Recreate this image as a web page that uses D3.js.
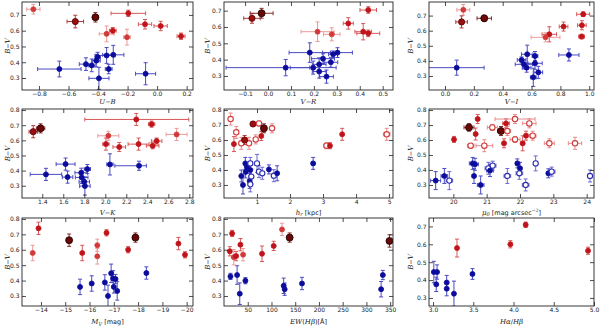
<!DOCTYPE html>
<html><head><meta charset="utf-8">
<script src="https://cdn.jsdelivr.net/npm/d3@7"></script>
<style>body{margin:0;background:#fff}svg{display:block}</style></head>
<body><svg id="c" width="600" height="327"></svg>
<script>
// ---------- DATA ----------
// types: b blue filled, bo blue open, r red filled, l light red, ro red open, d dark red, k darkest red
// Panel 1: U-B
const p1_x = [-0.662,-0.482,-0.443,-0.412,-0.403,-0.394,-0.342,-0.297,-0.328,-0.078, -0.838,-0.554,-0.418,-0.195,-0.082,0.024,0.162,-0.30,-0.342,-0.204];
const p1_y = [0.357,0.388,0.38,0.41,0.433,0.298,0.443,0.447,0.357,0.327, 0.736,0.658,0.685,0.71,0.641,0.63,0.565,0.60,0.58,0.559];
const p1_ex = [0.147,0.045,0.023,0.027,0.018,0.068,0.056,0.072,0.023,0.068, 0.045,0.056,0.018,0.117,0.045,0.045,0.027,0.023,0.05,0.023];
const p1_ey = [0.05,0.04,0.04,0.04,0.03,0.07,0.05,0.06,0.03,0.07, 0.03,0.04,0.03,0.02,0.03,0.03,0.02,0.02,0.05,0.05];
const p1_t = ['b','b','b','b','b','b','b','b','b','b','l','d','k','r','r','r','r','r','l','l'];
// Panel 2: V-R
const p2_x = [0.077,0.182,0.197,0.223,0.223,0.24,0.255,0.274,0.284,0.303, -0.07,-0.028,0.437,0.35,0.216,0.278,0.415,0.437];
const p2_y = [0.351,0.443,0.351,0.371,0.327,0.406,0.296,0.384,0.433,0.443, 0.653,0.684,0.704,0.622,0.571,0.555,0.571,0.561];
const p2_ex = [[0.26,0.105],0.09,0.1,0.03,0.03,0.05,0.03,0.03,0.02,0.065, 0.036,0.05,0.036,0.022,0.072,0.036,0.036,0.05];
const p2_ey = [0.05,0.06,0.04,0.04,0.04,0.03,0.04,0.03,0.02,0.03, 0.03,0.03,0.02,0.035,0.06,0.04,0.05,0.02];
const p2_t = ['b','b','b','b','b','b','b','b','b','b','d','k','r','r','l','l','r','r'];
// Panel 3: V-I
const p3_x = [0.081,0.859,0.531,0.57,0.547,0.566,0.624,0.624,0.647,0.612, 0.127,0.115,0.272,0.958,0.822,0.949,0.947,0.723,0.697];
const p3_y = [0.355,0.439,0.406,0.444,0.377,0.355,0.432,0.384,0.324,0.291, 0.738,0.658,0.682,0.709,0.627,0.636,0.561,0.576,0.556];
const p3_ex = [[0.2,0.19],0.07,0.03,0.04,0.06,0.03,0.02,0.05,0.03,0.02, 0.045,0.04,0.05,0.045,0.03,0.03,0.02,0.05,0.1];
const p3_ey = [0.05,0.04,0.02,0.06,0.03,0.03,0.03,0.04,0.04,0.06, 0.035,0.04,0.02,0.015,0.03,0.03,0.015,0.05,0.03];
const p3_t = ['b','b','b','b','b','b','b','b','b','b','l','d','k','r','r','r','r','r','l'];
// Panel 4: V-K
const p4_x = [1.435,1.622,1.641,1.771,1.829,1.775,1.8,1.806,2.044,2.321, 1.314,1.384,2.295,2.441,2.029,2.006,2.133,2.317,2.451,2.489,2.679];
const p4_y = [0.375,0.443,0.357,0.386,0.41,0.355,0.326,0.298,0.441,0.432, 0.657,0.679,0.738,0.707,0.63,0.575,0.556,0.575,0.564,0.595,0.639];
const p4_ex = [0.15,0.09,0.05,0.06,0.03,0.06,0.05,0.05,0.03,[0.23,0.07], 0.04,0.04,[0.49,0.5],0.03,0.1,0.03,0.06,0.1,0.06,0.05,0.1];
const p4_ey = [0.04,0.04,0.04,0.03,0.03,0.04,0.03,0.06,0.07,0.03, 0.04,0.03,0.04,0.02,0.03,0.04,0.03,0.04,0.02,0.02,0.04];
const p4_t = ['b','b','b','b','b','b','b','b','b','b','d','k','r','r','l','r','r','r','r','r','l'];
// Panel 5: h_r
const p5_x = [0.524,0.575,0.646,0.656,0.696,0.797,0.797,0.777,0.828,0.797,1.0,1.06,1.16,1.36,1.51,1.61,2.7, 0.2,0.372,0.301,0.524,0.757,0.625,0.878,0.96,1.06,1.13,1.21,1.456,3.106,3.21,3.58,4.93];
const p5_y = [0.36,0.3,0.444,0.387,0.418,0.4,0.444,0.327,0.356,0.304,0.444,0.389,0.378,0.404,0.362,0.378,0.444, 0.74,0.651,0.573,0.578,0.578,0.6,0.707,0.604,0.711,0.627,0.678,0.678,0.562,0.562,0.638,0.638];
const p5_ex = [0,0,0,0,0,0,0,0,0,0,0,0,0,0,0,0,0.05, 0,0,0,0,0,0,0,0,0,0,0,0,0.08,0,0,0.1];
const p5_ey = [0.04,0.06,0.04,0.04,0.03,0.04,0.04,0.05,0.05,0.05,0.06,0.04,0.04,0.03,0.04,0.05,0.04, 0.04,0.04,0.05,0.04,0.04,0.03,0.015,0.03,0.015,0.03,0.03,0.03,0.02,0.02,0.04,0.04];
const p5_t = ['b','b','b','b','b','b','bo','b','bo','bo','bo','bo','bo','b','bo','b','b', 'ro','ro','r','ro','ro','d','d','ro','ro','r','k','ro','ro','r','r','ro'];
// Panel 6: mu_0
const p6_x = [19.47,19.73,19.88,20.58,20.65,20.62,20.82,21.05,21.1,21.18,21.62,21.92,22.0,21.98,22.17,22.47,22.85,22.95,24.1, 20.02,20.47,20.73,20.67,20.52,20.93,21.17,21.43,21.58,21.85,21.62,21.52,21.85,22.08,22.18,22.28,22.38,22.88,23.65];
const p6_y = [0.329,0.36,0.329,0.444,0.438,0.36,0.3,0.411,0.396,0.429,0.36,0.444,0.411,0.378,0.3,0.444,0.378,0.389,0.36, 0.604,0.684,0.74,0.64,0.562,0.562,0.684,0.66,0.711,0.74,0.66,0.578,0.604,0.578,0.629,0.711,0.629,0.578,0.578];
const p6_ex = [0.15,0.1,0.1,0.1,0.1,0.05,0.1,0.1,0.1,0.1,0.1,0.05,0.05,0.1,0.1,0.05,0.05,0.1,0.05, 0,0.15,0,0,0.1,0.25,0.15,0.1,0.1,0.6,0.1,0.05,0.15,0.05,0.05,0.2,0.1,0.15,0.2];
const p6_ey = [0.06,0.05,0.06,0.04,0.04,0.05,0.06,0.04,0.04,0.03,0.05,0.03,0.04,0.04,0.04,0.05,0.03,0.03,0.04, 0.02,0.025,0.03,0.04,0.015,0.04,0.02,0.03,0.03,0.03,0.03,0.03,0.02,0.05,0.03,0.03,0.03,0.03,0.04];
const p6_t = ['b','b','bo','b','b','b','b','bo','b','bo','bo','b','b','bo','bo','bo','b','bo','bo', 'r','k','r','r','ro','ro','ro','k','r','ro','ro','r','ro','r','r','ro','ro','ro','ro'];
// Panel 7: M_V
const p7_x = [-15.61,-16.09,-16.63,-16.89,-16.97,-17.0,-16.76,-17.07,-17.14,-18.34, -13.66,-13.9,-15.16,-15.7,-16.32,-16.32,-16.7,-17.59,-17.89,-19.66,-19.93];
const p7_y = [0.359,0.381,0.388,0.447,0.414,0.359,0.3,0.41,0.333,0.449, 0.579,0.739,0.662,0.579,0.629,0.557,0.71,0.6,0.679,0.64,0.567];
const p7_ey = [0.05,0.05,0.05,0.06,0.05,0.04,0.07,0.03,0.06,0.04, 0.05,0.04,0.04,0.05,0.04,0.05,0.02,0.02,0.03,0.04,0.02];
const p7_t = ['b','b','b','b','b','b','b','b','b','b','l','r','k','r','l','l','r','r','k','r','r'];
// Panel 8: EW(Hbeta)
const p8_x = [13.6,27.6,33.2,45.1,125.7,127.8,164.3,331,334.6, 12.2,17.1,20.6,25.5,34.6,40.2,80.1,104.7,122.2,138.3,348.6];
const p8_y = [0.427,0.436,0.315,0.399,0.366,0.344,0.381,0.344,0.436, 0.59,0.706,0.552,0.559,0.633,0.568,0.574,0.625,0.732,0.679,0.657];
const p8_ey = [0.02,0.06,0.07,0.02,0.05,0.04,0.04,0.05,0.03, 0.03,0.02,0.05,0.03,0.04,0.04,0.05,0.03,0.04,0.03,0.04];
const p8_t = ['b','b','b','b','b','b','b','b','b','r','r','l','r','r','l','r','r','l','k','k'];
// Panel 9: Halpha/Hbeta
const p9_x = [3.01,3.05,3.04,3.17,3.17,3.26,3.49, 3.298,3.961,4.151,4.926];
const p9_y = [0.445,0.445,0.376,0.386,0.352,0.324,0.434, 0.579,0.6,0.709,0.564];
const p9_ey = [0.06,0.04,0.04,0.04,0.04,0.07,0.03, 0.05,0.02,0.015,0.02];
const p9_t = ['b','b','b','b','b','b','b','r','r','r','r'];

// tick values
const p1_xt=[-0.8,-0.6,-0.4,-0.2,0.0,0.2], p2_xt=[-0.1,0,0.1,0.2,0.3,0.4,0.5], p3_xt=[0,0.2,0.4,0.6,0.8,1.0];
const p4_xt=[1.4,1.6,1.8,2.0,2.2,2.4,2.6,2.8], p5_xt=[1,2,3,4,5], p6_xt=[20,21,22,23,24];
const p7_xt=[-14,-15,-16,-17,-18,-19,-20], p8_xt=[50,100,150,200,250,300,350], p9_xt=[3.0,3.5,4.0,4.5,5.0];
const yt7=[0.3,0.4,0.5,0.6,0.7], yt8=[0.3,0.4,0.5,0.6,0.7,0.8];

// ---------- DRAW ----------
const panels = [
 {x:p1_x,y:p1_y,ex:p1_ex,ey:p1_ey,t:p1_t,xd:[-0.915,0.243],yd:[0.224,0.782],xt:p1_xt,yt:yt7,xf:'.1f',lab:[['U','i'],['−','n'],['B','i']]},
 {x:p2_x,y:p2_y,ex:p2_ex,ey:p2_ey,t:p2_t,xd:[-0.192,0.545],yd:[0.214,0.753],xt:p2_xt,yt:yt7,xf:'.1f',lab:[['V','i'],['−','n'],['R','i']]},
 {x:p3_x,y:p3_y,ex:p3_ex,ey:p3_ey,t:p3_t,xd:[-0.111,1.033],yd:[0.207,0.79],xt:p3_xt,yt:yt7,xf:'.1f',lab:[['V','i'],['−','n'],['I','i']]},
 {x:p4_x,y:p4_y,ex:p4_ex,ey:p4_ey,t:p4_t,xd:[1.207,2.835],yd:[0.219,0.807],xt:p4_xt,yt:yt8,xf:'.1f',lab:[['V','i'],['−','n'],['K','i']]},
 {x:p5_x,y:p5_y,ex:p5_ex,ey:p5_ey,t:p5_t,xd:[0,5.12],yd:[0.213,0.807],xt:p5_xt,yt:yt8,xf:'d',lab:[['h','i'],['r','s'],[' [kpc]','n']]},
 {x:p6_x,y:p6_y,ex:p6_ex,ey:p6_ey,t:p6_t,xd:[19.27,24.22],yd:[0.213,0.807],xt:p6_xt,yt:yt8,xf:'d',lab:[['μ','i'],['0','s'],[' [mag arcsec','n'],['−2','p'],[']','n']]},
 {x:p7_x,y:p7_y,ex:null,ey:p7_ey,t:p7_t,xd:[-13.22,-20.26],yd:[0.235,0.806],xt:p7_xt,yt:yt8,xf:'d',lab:[['M','i'],['V','s'],[' [mag]','n']]},
 {x:p8_x,y:p8_y,ex:null,ey:p8_ey,t:p8_t,xd:[0,356],yd:[0.235,0.806],xt:p8_xt,yt:yt8,xf:'d',lab:[['EW','i'],['(','n'],['Hβ','i'],[')[Å]','n']]},
 {x:p9_x,y:p9_y,ex:null,ey:p9_ey,t:p9_t,xd:[2.95,5.0],yd:[0.255,0.747],xt:p9_xt,yt:yt7,xf:'.1f',lab:[['Hα','i'],['/','n'],['Hβ','i']]}
];

const style = {
 b:{f:'#0c0c9c',s:'#0c0c9c',e:'#4a4ac4',r:2.5},
 bo:{f:'#fff',s:'#2a2ab0',e:'#6a6ad0',r:2.6},
 r:{f:'#c0141c',s:'#c0141c',e:'#d85858',r:2.5},
 l:{f:'#d23a3a',s:'#d23a3a',e:'#eb9a9a',r:2.5},
 ro:{f:'#fff',s:'#d23a3a',e:'#e88a8a',r:2.7},
 d:{f:'#9a1010',s:'#5a0000',e:'#b03a3a',r:3.1},
 k:{f:'#6a0808',s:'#1a0000',e:'#8a2a2a',r:3.5}
};

const svg = d3.select('#c');
const cols=[[22,193],[224,393],[429,594]], rows=[[2,90],[109,198],[218,306]];
const ylabX=[9.5,209.5,413], xlabY=[103.5,214.5,324];
const tickFont='DejaVu Sans', labFont='DejaVu Serif';
const TF=6, LF=7;

panels.forEach((p,i)=>{
  const c=i%3, r=Math.floor(i/3);
  const [x0,x1]=cols[c], [y0,y1]=rows[r];
  const xs=d3.scaleLinear().domain(p.xd).range([x0,x1]);
  const ys=d3.scaleLinear().domain(p.yd).range([y1,y0]);
  const g=svg.append('g');
  const cid='clip'+i;
  svg.append('clipPath').attr('id',cid).append('rect').attr('x',x0).attr('y',y0).attr('width',x1-x0).attr('height',y1-y0);
  const pts=p.x.map((v,k)=>({x:v,y:p.y[k],ex:p.ex?p.ex[k]:0,ey:p.ey[k],t:p.t[k]}));
  const pg=g.append('g').attr('clip-path',`url(#${cid})`);
  pts.forEach(d=>{
    const st=style[d.t];
    const cx=xs(d.x), cy=ys(d.y);
    const eg=pg.append('g').attr('stroke',st.e).attr('stroke-width',1).attr('fill','none');
    if(d.ey){
      eg.append('line').attr('x1',cx).attr('x2',cx).attr('y1',ys(d.y-d.ey)).attr('y2',ys(d.y+d.ey));
      [d.y-d.ey,d.y+d.ey].forEach(v=>eg.append('line').attr('x1',cx-2).attr('x2',cx+2).attr('y1',ys(v)).attr('y2',ys(v)));
    }
    if(d.ex){
      const lo=Array.isArray(d.ex)?d.ex[0]:d.ex, hi=Array.isArray(d.ex)?d.ex[1]:d.ex;
      eg.append('line').attr('y1',cy).attr('y2',cy).attr('x1',xs(d.x-lo)).attr('x2',xs(d.x+hi));
      [d.x-lo,d.x+hi].forEach(v=>eg.append('line').attr('y1',cy-2).attr('y2',cy+2).attr('x1',xs(v)).attr('x2',xs(v)));
    }
  });
  pg.selectAll('circle.m').data(pts).join('circle').attr('class','m')
    .attr('cx',d=>xs(d.x)).attr('cy',d=>ys(d.y)).attr('r',d=>style[d.t].r)
    .attr('fill',d=>style[d.t].f).attr('stroke',d=>style[d.t].s).attr('stroke-width',d=>d.t.endsWith('o')?1.1:0.8);

  const fmt=d3.format(p.xf);
  const axB=g.append('g').attr('transform',`translate(0,${y1})`).call(d3.axisBottom(xs).tickValues(p.xt).tickSize(-4).tickPadding(1.5).tickFormat(fmt));
  const axT=g.append('g').attr('transform',`translate(0,${y0})`).call(d3.axisTop(xs).tickValues(p.xt).tickSize(-4).tickFormat(''));
  const axL=g.append('g').attr('transform',`translate(${x0},0)`).call(d3.axisLeft(ys).tickValues(p.yt).tickSize(-4).tickPadding(2.5).tickFormat(d3.format('.1f')));
  const axR=g.append('g').attr('transform',`translate(${x1},0)`).call(d3.axisRight(ys).tickValues(p.yt).tickSize(-4).tickFormat(''));
  [axB,axT,axL,axR].forEach(a=>{a.select('.domain').remove();a.selectAll('line').attr('stroke','#222').attr('stroke-width',0.8);
    a.selectAll('text').attr('font-family',tickFont).attr('font-size',TF).attr('fill','#222');});
  g.append('rect').attr('x',x0).attr('y',y0).attr('width',x1-x0).attr('height',y1-y0).attr('fill','none').attr('stroke','#222').attr('stroke-width',0.9);

  // x label
  const xl=g.append('text').attr('x',(x0+x1)/2).attr('y',xlabY[r]).attr('text-anchor','middle')
    .attr('font-family',labFont).attr('font-size',LF).attr('fill','#222');
  let shift=0;
  p.lab.forEach(([s,k])=>{
    const ts=xl.append('tspan').text(s);
    let want=0;
    if(k==='i') ts.attr('font-style','italic');
    if(k==='s'){ ts.attr('font-size',5).attr('font-style','italic'); want=1.8; }
    if(k==='p'){ ts.attr('font-size',4.5); want=-3; }
    if(k==='n'){ ts.attr('font-family',tickFont).attr('font-size',6.5); }
    if(want!==shift){ ts.attr('dy',want-shift); shift=want; }
  });

  // y label
  const yl=g.append('text').attr('transform',`translate(${ylabX[c]},${(y0+y1)/2}) rotate(-90)`).attr('text-anchor','middle')
    .attr('font-family',labFont).attr('font-size',LF).attr('fill','#222');
  yl.append('tspan').attr('font-style','italic').text('B');
  yl.append('tspan').attr('font-family',tickFont).attr('font-size',6.5).text('−');
  yl.append('tspan').attr('font-style','italic').text('V');
});
</script></body></html>
